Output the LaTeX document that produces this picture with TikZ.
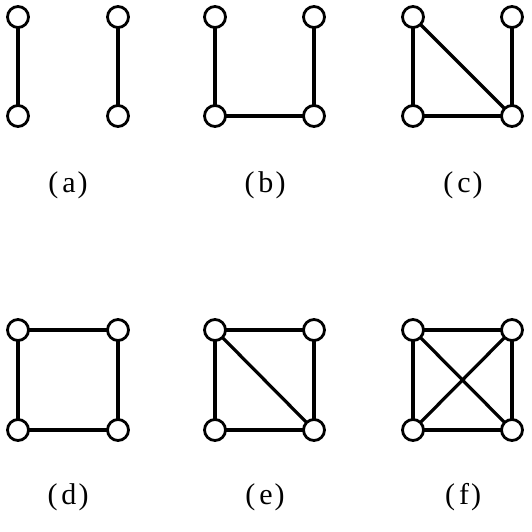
\documentclass[tikz,border=0pt]{standalone}
\usepackage{fontspec}
\setmainfont{Liberation Serif}
\begin{document}
\begin{tikzpicture}[x=1pt,y=-1pt,
  vtx/.style={circle,draw=black,fill=white,line width=2.8pt,minimum size=21pt,inner sep=0pt},
  edg/.style={line width=3.2pt,black},
  lbl/.style={font=\fontsize{30}{34}\selectfont,inner sep=0pt}]
\useasboundingbox (0,0) rectangle (532,532);
\newcommand{\lab}[1]{(\hspace{4pt}#1\hspace{2pt})}
% positions
\def\ya{17}\def\yb{116}\def\yc{330}\def\yd{430}
% (a)
\coordinate (a1) at (18,\ya); \coordinate (a2) at (118,\ya);
\coordinate (a3) at (18,\yb); \coordinate (a4) at (118,\yb);
\draw[edg] (a1) -- (a3); \draw[edg] (a2) -- (a4);
\foreach \n in {a1,a2,a3,a4} \node[vtx] at (\n) {};
\node[lbl] (la) at (68,185) {\lab{a}};
% (b)
\coordinate (b1) at (215,\ya); \coordinate (b2) at (314,\ya);
\coordinate (b3) at (215,\yb); \coordinate (b4) at (314,\yb);
\draw[edg] (b1) -- (b3) -- (b4) -- (b2);
\foreach \n in {b1,b2,b3,b4} \node[vtx] at (\n) {};
\node[lbl] (lb) at (265,185) {\lab{b}};
% (c)
\coordinate (c1) at (413,\ya); \coordinate (c2) at (512,\ya);
\coordinate (c3) at (413,\yb); \coordinate (c4) at (512,\yb);
\draw[edg] (c1) -- (c3) -- (c4) -- (c2); \draw[edg] (c1) -- (c4);
\foreach \n in {c1,c2,c3,c4} \node[vtx] at (\n) {};
\node[lbl] (lc) at (463,185) {\lab{c}};
% (d)
\coordinate (d1) at (18,\yc); \coordinate (d2) at (118,\yc);
\coordinate (d3) at (18,\yd); \coordinate (d4) at (118,\yd);
\draw[edg] (d1) -- (d3) -- (d4) -- (d2) -- cycle;
\foreach \n in {d1,d2,d3,d4} \node[vtx] at (\n) {};
\node[lbl] (ld) at (68,497) {\lab{d}};
% (e)
\coordinate (e1) at (215,\yc); \coordinate (e2) at (314,\yc);
\coordinate (e3) at (215,\yd); \coordinate (e4) at (314,\yd);
\draw[edg] (e1) -- (e3) -- (e4) -- (e2) -- cycle; \draw[edg] (e1) -- (e4);
\foreach \n in {e1,e2,e3,e4} \node[vtx] at (\n) {};
\node[lbl] (le) at (265,497) {\lab{e}};
% (f)
\coordinate (f1) at (413,\yc); \coordinate (f2) at (512,\yc);
\coordinate (f3) at (413,\yd); \coordinate (f4) at (512,\yd);
\draw[edg] (f1) -- (f3) -- (f4) -- (f2) -- cycle; \draw[edg] (f1) -- (f4); \draw[edg] (f2) -- (f3);
\foreach \n in {f1,f2,f3,f4} \node[vtx] at (\n) {};
\node[lbl] (lf) at (463,497) {\lab{f}};
\end{tikzpicture}
\end{document}
